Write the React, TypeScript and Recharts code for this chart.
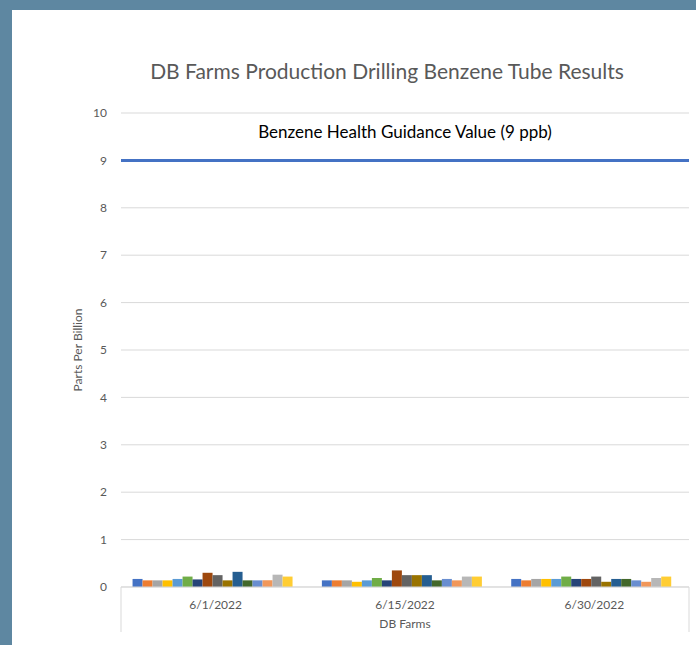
import { BarChart, Bar, XAxis, YAxis, CartesianGrid, ReferenceLine, usePlotArea } from 'recharts'

const dates = ['6/1/2022', '6/15/2022', '6/30/2022']

// 16 tube samples per sampling date (ppb)
const tubes = [
  [0.17, 0.14, 0.17],
  [0.14, 0.14, 0.14],
  [0.14, 0.14, 0.17],
  [0.14, 0.11, 0.17],
  [0.17, 0.14, 0.17],
  [0.22, 0.19, 0.22],
  [0.16, 0.14, 0.17],
  [0.3, 0.35, 0.17],
  [0.25, 0.25, 0.22],
  [0.14, 0.25, 0.11],
  [0.32, 0.25, 0.17],
  [0.14, 0.14, 0.17],
  [0.14, 0.17, 0.14],
  [0.14, 0.14, 0.11],
  [0.26, 0.22, 0.19],
  [0.22, 0.22, 0.22],
]

const colors = [
  '#4472C4', '#ED7D31', '#A5A5A5', '#FFC000', '#5B9BD5', '#70AD47', '#264478', '#9E480E',
  '#636363', '#997300', '#255E91', '#43682B', '#698ED0', '#F1975A', '#B7B7B7', '#FFCD33',
]

const yTicks = [0, 1, 2, 3, 4, 5, 6, 7, 8, 9, 10]
const guidance = 9

const data = dates.map((d, i) => {
  const row: Record<string, string | number> = { date: d }
  tubes.forEach((t, k) => { row['t' + k] = t[i] })
  return row
})

const font = 'Lato, "Open Sans", sans-serif'

// outer edges of the category axis, Excel style
function AxisFrame() {
  const area = usePlotArea()
  if (!area) return null
  const bottom = area.y + area.height
  return (
    <g>
      <line x1={area.x} x2={area.x} y1={bottom} y2={bottom + 45} stroke="#D9D9D9" />
      <line x1={area.x + area.width} x2={area.x + area.width} y1={bottom} y2={bottom + 45} stroke="#D9D9D9" />
    </g>
  )
}

export default function App() {
  return (
    <div style={{ position: 'absolute', left: 0, top: 0, width: 696, height: 645, background: '#5E87A1', overflow: 'hidden' }}>
      <div style={{ position: 'absolute', left: 12, top: 10, width: 684, height: 635, background: '#fff' }}>
        <div style={{ position: 'absolute', top: 48, left: 0, width: 750, textAlign: 'center', fontFamily: font, fontSize: 21, color: '#595959', whiteSpace: 'nowrap' }}>
          DB Farms Production Drilling Benzene Tube Results
        </div>
        <BarChart
          width={684}
          height={635}
          data={data}
          margin={{ top: 103, right: 7, left: 0, bottom: 0 }}
          barCategoryGap="6.1%"
          barGap={0}
          style={{ fontFamily: font }}
        >
          <CartesianGrid vertical={false} stroke="#D9D9D9" />
          <XAxis
            dataKey="date"
            tickLine={false}
            axisLine={{ stroke: '#D9D9D9' }}
            tick={{ fill: '#595959', fontSize: 12 }}
            tickMargin={7}
            height={58}
            label={{ value: 'DB Farms', position: 'insideBottom', offset: 17, fill: '#595959', fontSize: 12 }}
          />
          <YAxis
            domain={[0, 10]}
            ticks={yTicks}
            width={109}
            tickLine={false}
            axisLine={false}
            tickSize={0}
            tickMargin={14}
            tick={{ fill: '#595959', fontSize: 12 }}
            label={{ value: 'Parts Per Billion', angle: -90, position: 'insideLeft', offset: 66, fill: '#595959', fontSize: 12, style: { textAnchor: 'middle' } }}
          />
          {tubes.map((_, k) => (
            <Bar key={k} dataKey={'t' + k} fill={colors[k]} isAnimationActive={false} />
          ))}
          <ReferenceLine
            y={guidance}
            stroke="#4472C4"
            strokeWidth={3}
            label={{ value: 'Benzene Health Guidance Value (9 ppb)', position: 'top', offset: 22, fill: '#000', fontSize: 17 }}
          />
          <AxisFrame />
        </BarChart>
      </div>
    </div>
  )
}
